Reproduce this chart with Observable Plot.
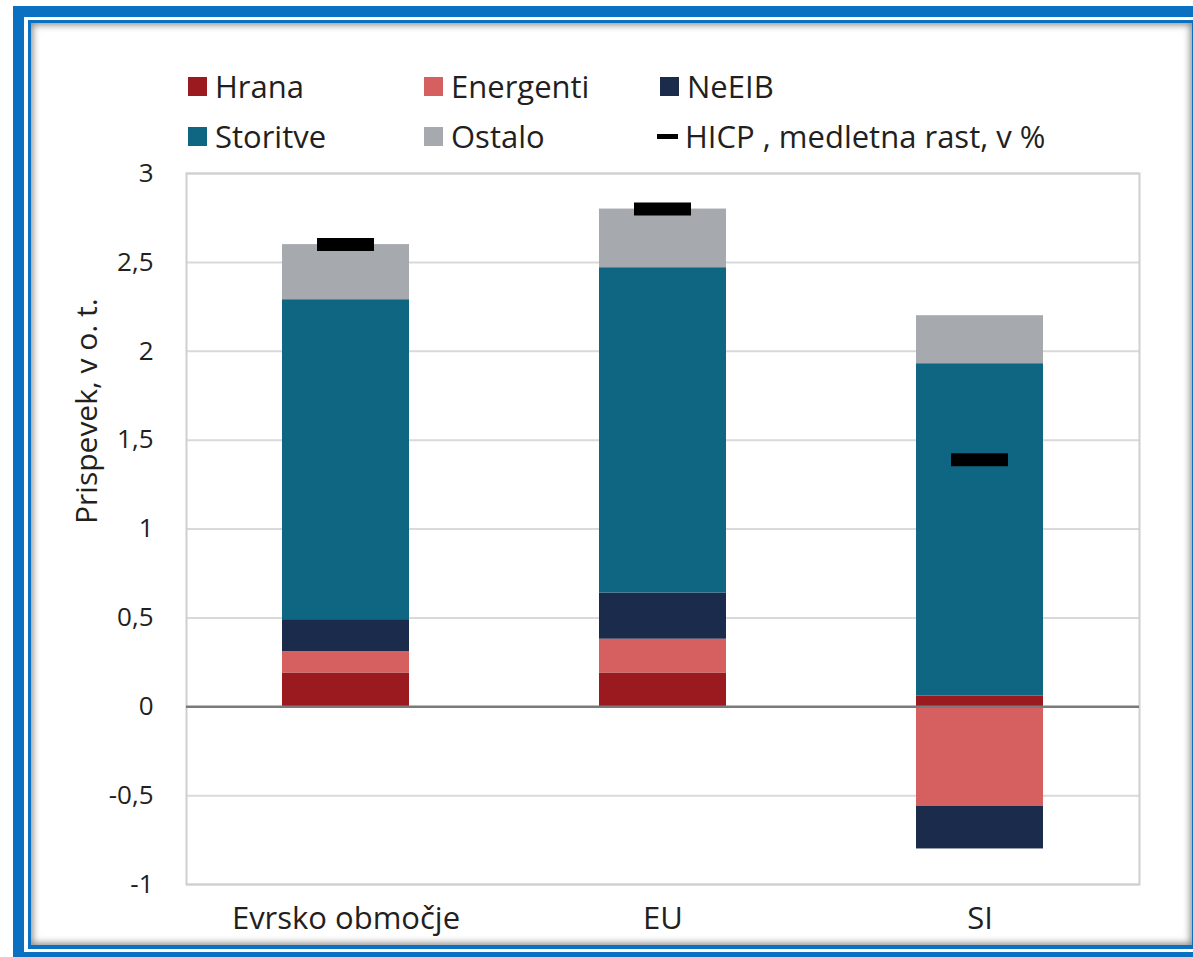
<!DOCTYPE html>
<html>
<head>
<meta charset="utf-8">
<script src="https://cdn.jsdelivr.net/npm/d3@7"></script>
<script src="https://cdn.jsdelivr.net/npm/@observablehq/plot@0.6"></script>
<style>
  html, body { margin: 0; padding: 0; }
  body { width: 1193px; height: 957px; overflow: hidden; position: relative; background: #fff;
         font-family: "Open Sans", sans-serif; color: #231f20; }
  .abs { position: absolute; }
  #blue1 { left: 13px; top: 6px; width: 1200px; height: 960px; background: #0a70c2; }
  #white1 { left: 24px; top: 17px; width: 1200px; height: 935px; background: #fff; }
  #blue2 { left: 28px; top: 20px; width: 1200px; height: 929px; background: #0a70c2; }
  #card { left: 31px; top: 23px; width: 1161px; height: 922px; background: #fff;
          box-shadow: inset 0 0 7px 2px rgba(0,0,0,0.45); }
  #legend { left: 188px; top: 61px; display: grid; grid-template-columns: 236px 236px 300px;
            grid-auto-rows: 50px; align-items: center; font-size: 31px; line-height: 1; }
  .item { display: flex; align-items: center; gap: 8px; white-space: nowrap; }
  .sw { width: 19px; height: 19px; flex: none; }
  .dash { width: 21px; height: 5px; background: #000; flex: none; margin-left: -3px; margin-right: -1px; }
  #chart { left: 0; top: 150px; width: 1193px; }
</style>
</head>
<body>
<div id="blue1" class="abs"></div>
<div id="white1" class="abs"></div>
<div id="blue2" class="abs"></div>
<div id="card" class="abs"></div>
<div id="legend" class="abs"></div>
<div id="chart" class="abs"></div>
<script>
const categories = ["Evrsko območje", "EU", "SI"];
const series = ["Hrana", "Energenti", "NeEIB", "Storitve", "Ostalo"];
const colors = ["#9a1a1f", "#d65f5f", "#1a2b4c", "#0f6683", "#a6aaaf"];
const hrana = [0.19, 0.19, 0.06];
const energenti = [0.12, 0.19, -0.56];
const neeib = [0.18, 0.26, -0.24];
const storitve = [1.80, 1.83, 1.87];
const ostalo = [0.31, 0.33, 0.27];
const hicp = [2.6, 2.8, 1.39];
const yTicks = [-1, -0.5, 0, 0.5, 1, 1.5, 2, 2.5, 3];
const yLabel = "Prispevek, v o. t.";
const hicpLabel = "HICP , medletna rast, v %";
const legendOrder = ["Hrana", "Energenti", "NeEIB", "Storitve", "Ostalo"];

const seriesValues = [hrana, energenti, neeib, storitve, ostalo];
const rows = [];
series.forEach((s, i) => categories.forEach((c, j) => rows.push({cat: c, series: s, value: seriesValues[i][j]})));
const hicpRows = categories.map((c, j) => ({cat: c, value: hicp[j]}));

// legend
const legend = document.getElementById("legend");
legendOrder.forEach(s => {
  const it = document.createElement("div");
  it.className = "item";
  const sw = document.createElement("span");
  sw.className = "sw";
  sw.style.background = colors[series.indexOf(s)];
  const tx = document.createElement("span");
  tx.textContent = s;
  it.append(sw, tx);
  legend.append(it);
});
{
  const it = document.createElement("div");
  it.className = "item";
  const d = document.createElement("span");
  d.className = "dash";
  const tx = document.createElement("span");
  tx.textContent = hicpLabel;
  it.append(d, tx);
  legend.append(it);
}

const fmt = d => String(d).replace(".", ",");

const plot = Plot.plot({
  width: 1193,
  height: 794,
  marginLeft: 186,
  marginRight: 54,
  marginTop: 23,
  marginBottom: 60,
  style: {background: "transparent", fontFamily: "Open Sans, sans-serif", color: "#231f20", overflow: "visible"},
  x: {domain: categories, paddingInner: 0.6, paddingOuter: 0.3},
  y: {domain: [-1, 3]},
  color: {domain: series, range: colors},
  marks: [
    Plot.ruleY(yTicks.filter(d => d !== 0), {stroke: "#d9d9d9", strokeWidth: 2}),
    Plot.frame({stroke: "#cfcfcf", strokeWidth: 2}),
    Plot.barY(rows, {x: "cat", y: "value", fill: "series"}),
    Plot.ruleY([0], {stroke: "#7a7a7a", strokeWidth: 2.5}),
    Plot.tickY(hicpRows, {x: "cat", y: "value", stroke: "#000", strokeWidth: 13, insetLeft: 35, insetRight: 35}),
    Plot.axisX({tickSize: 0, tickPadding: 22, fontSize: 31, label: null}),
    Plot.axisY({ticks: yTicks, tickFormat: fmt, tickSize: 0, tickPadding: 33, fontSize: 26, label: null}),
    Plot.text([yLabel], {frameAnchor: "left", dx: -99, dy: -5, rotate: -90, fontSize: 30, fill: "#231f20", text: d => d})
  ]
});
document.getElementById("chart").append(plot);
</script>
</body>
</html>
